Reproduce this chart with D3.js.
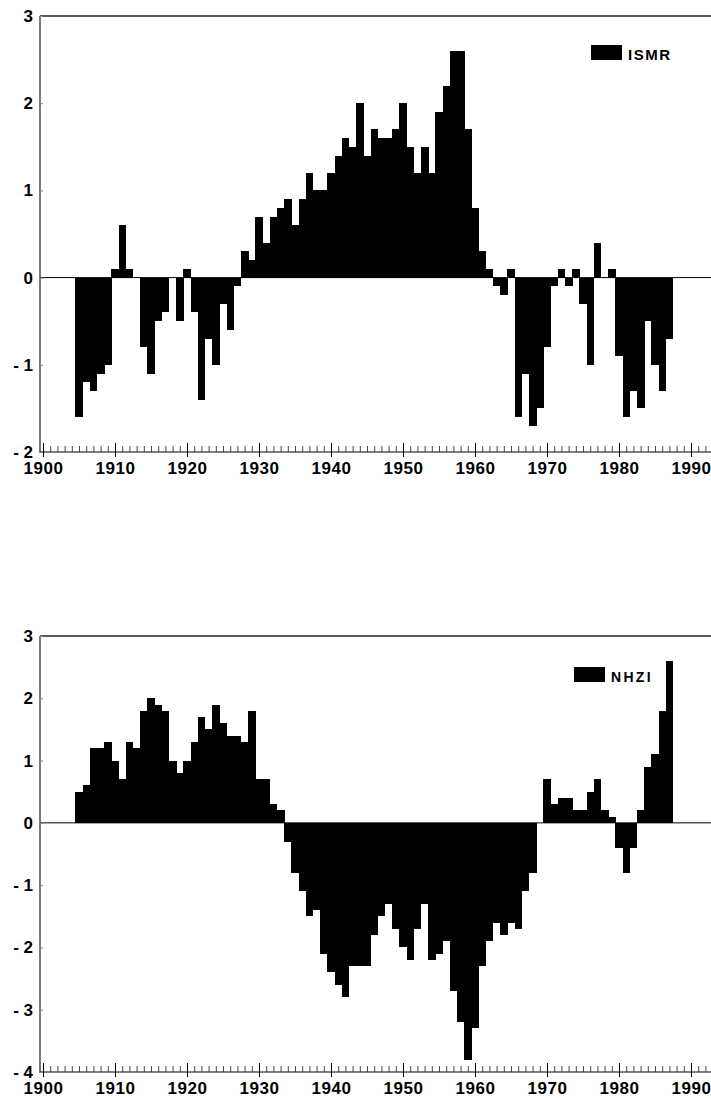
<!DOCTYPE html>
<html>
<head>
<meta charset="utf-8">
<script src="https://cdn.jsdelivr.net/npm/d3@7"></script>
<style>
  html, body { margin: 0; padding: 0; background: #fff; }
  svg { display: block; }
  text { font-family: "Liberation Sans", Arial, sans-serif; font-weight: bold; fill: #000; }
</style>
</head>
<body>
<svg id="chart" width="711" height="1099"></svg>
<script>
// ---- Data ----
const years = d3.range(1905, 1988);
const ismr = [
  -1.6, -1.2, -1.3, -1.1, -1.0,  0.1,  0.6,  0.1,  0.0, -0.8,   // 1905-1914
  -1.1, -0.5, -0.4,  0.0, -0.5,  0.1, -0.4, -1.4, -0.7, -1.0,   // 1915-1924
  -0.3, -0.6, -0.1,  0.3,  0.2,  0.7,  0.4,  0.7,  0.8,  0.9,   // 1925-1934
   0.6,  0.9,  1.2,  1.0,  1.0,  1.2,  1.4,  1.6,  1.5,  2.0,   // 1935-1944
   1.4,  1.7,  1.6,  1.6,  1.7,  2.0,  1.5,  1.2,  1.5,  1.2,   // 1945-1954
   1.9,  2.2,  2.6,  2.6,  1.7,  0.8,  0.3,  0.1, -0.1, -0.2,   // 1955-1964
   0.1, -1.6, -1.1, -1.7, -1.5, -0.8, -0.1,  0.1, -0.1,  0.1,   // 1965-1974
  -0.3, -1.0,  0.4,  0.0,  0.1, -0.9, -1.6, -1.3, -1.5, -0.5,   // 1975-1984
  -1.0, -1.3, -0.7                                              // 1985-1987
];
const nhzi = [
   0.5,  0.6,  1.2,  1.2,  1.3,  1.0,  0.7,  1.3,  1.2,  1.8,   // 1905-1914
   2.0,  1.9,  1.8,  1.0,  0.8,  1.0,  1.3,  1.7,  1.5,  1.9,   // 1915-1924
   1.6,  1.4,  1.4,  1.3,  1.8,  0.7,  0.7,  0.3,  0.2, -0.3,   // 1925-1934
  -0.8, -1.1, -1.5, -1.4, -2.1, -2.4, -2.6, -2.8, -2.3, -2.3,   // 1935-1944
  -2.3, -1.8, -1.5, -1.3, -1.7, -2.0, -2.2, -1.7, -1.3, -2.2,   // 1945-1954
  -2.1, -1.9, -2.7, -3.2, -3.8, -3.3, -2.3, -1.9, -1.6, -1.8,   // 1955-1964
  -1.6, -1.7, -1.1, -0.8,  0.0,  0.7,  0.3,  0.4,  0.4,  0.2,   // 1965-1974
   0.2,  0.5,  0.7,  0.2,  0.1, -0.4, -0.8, -0.4,  0.2,  0.9,   // 1975-1984
   1.1,  1.8,  2.6                                              // 1985-1987
];
const xTickLabels = [1900, 1910, 1920, 1930, 1940, 1950, 1960, 1970, 1980, 1990];
const minorTickYears = d3.range(1900, 1993);
const ismrTicks = [-2, -1, 0, 1, 2, 3];
const nhziTicks = [-4, -3, -2, -1, 0, 1, 2, 3];

// ---- Layout ----
const svg = d3.select("#chart");
const W = 711;
const axisX = 40;
const x = d3.scaleLinear().domain([1900, 1990]).range([43, 691]);
const step = x(1901) - x(1900);

function fmtY(d) { return d < 0 ? "- " + Math.abs(d) : String(d); }

function panel(opts) {
  const g = svg.append("g");
  const y = d3.scaleLinear().domain(opts.domain).range([opts.bottom, opts.top]);
  const data = years.map((yr, i) => ({ yr, v: opts.values[i] }));

  // bars
  g.append("g").selectAll("rect").data(data.filter(d => d.v !== 0)).join("rect")
    .attr("x", d => x(d.yr) - step / 2)
    .attr("width", step + 0.4)
    .attr("y", d => y(Math.max(0, d.v)))
    .attr("height", d => Math.abs(y(d.v) - y(0)))
    .attr("fill", "#000")
    .attr("shape-rendering", "crispEdges");

  // zero line
  g.append("line").attr("x1", axisX).attr("x2", W).attr("y1", y(0)).attr("y2", y(0))
    .attr("stroke", "#000").attr("stroke-width", 1);

  // frame: top line and left line
  g.append("line").attr("x1", axisX).attr("x2", W).attr("y1", opts.top).attr("y2", opts.top)
    .attr("stroke", "#222").attr("stroke-width", 1.3);
  g.append("line").attr("x1", axisX).attr("x2", axisX).attr("y1", opts.top).attr("y2", opts.bottom + 1)
    .attr("stroke", "#333").attr("stroke-width", 1.3);
  // bottom axis line
  g.append("line").attr("x1", axisX).attr("x2", W).attr("y1", opts.bottom).attr("y2", opts.bottom)
    .attr("stroke", "#000").attr("stroke-width", 1.2);

  // y axis ticks and labels
  const yAxis = d3.axisLeft(y).tickValues(opts.ticks).tickSizeInner(-3).tickSizeOuter(0)
    .tickPadding(7).tickFormat(fmtY);
  const ya = g.append("g").attr("transform", `translate(${axisX},0)`).call(yAxis);
  ya.select(".domain").remove();
  ya.selectAll(".tick line").attr("stroke", "#888");
  ya.selectAll("text").attr("font-size", 17).attr("font-family", null).attr("fill", "#000");

  // minor year ticks (upward)
  const minor = g.append("g").attr("transform", `translate(0,${opts.bottom})`)
    .call(d3.axisBottom(x).tickValues(minorTickYears).tickSizeInner(-6).tickSizeOuter(0).tickFormat(""));
  minor.select(".domain").remove();
  minor.selectAll(".tick line").attr("stroke", "#333").attr("stroke-width", 0.9);

  // decade ticks upward
  const majUp = g.append("g").attr("transform", `translate(0,${opts.bottom})`)
    .call(d3.axisBottom(x).tickValues(xTickLabels).tickSizeInner(-9).tickSizeOuter(0).tickFormat(""));
  majUp.select(".domain").remove();
  majUp.selectAll(".tick line").attr("stroke", "#000");

  // decade ticks downward with labels
  const maj = g.append("g").attr("transform", `translate(0,${opts.bottom})`)
    .call(d3.axisBottom(x).tickValues(xTickLabels).tickSizeInner(5).tickSizeOuter(0).tickPadding(5)
      .tickFormat(d3.format("d")));
  maj.select(".domain").remove();
  maj.selectAll(".tick line").attr("stroke", "#000");
  maj.selectAll("text").attr("font-size", 17).attr("font-family", null)
    .attr("letter-spacing", "0.6px").attr("fill", "#000");

  // legend
  g.append("rect").attr("x", opts.legX).attr("y", opts.legY).attr("width", 31).attr("height", 15)
    .attr("fill", "#000");
  g.append("text").attr("x", opts.legX + 37).attr("y", opts.legY + 15)
    .attr("font-size", opts.legFont).attr("letter-spacing", opts.legSpacing)
    .text(opts.label);
}

panel({ values: ismr, domain: [-2, 3], top: 16, bottom: 452, ticks: ismrTicks,
        label: "ISMR", legX: 591, legY: 45, legFont: 15, legSpacing: "1.5px" });
panel({ values: nhzi, domain: [-4, 3], top: 636, bottom: 1072, ticks: nhziTicks,
        label: "NHZI", legX: 574, legY: 667, legFont: 14, legSpacing: "2.3px" });
</script>
</body>
</html>
